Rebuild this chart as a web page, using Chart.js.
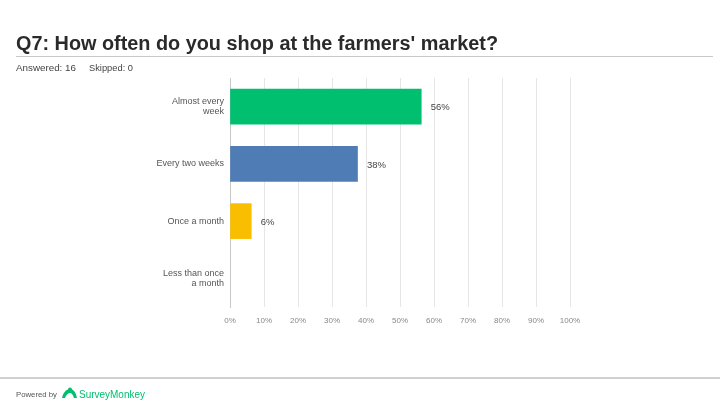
<!DOCTYPE html>
<html>
<head>
<meta charset="utf-8">
<script src="https://cdn.jsdelivr.net/npm/chart.js@4/dist/chart.umd.min.js"></script>
<style>
  html, body { margin:0; padding:0; background:#fff; }
  body { width:720px; height:405px; position:relative; overflow:hidden; font-family:"Liberation Sans", Arial, sans-serif; }
  #c { position:absolute; left:0; top:0; }
  .fit { position:absolute; white-space:nowrap; transform-origin:0 0; }
  #title { left:16px; top:31px; font-size:20px; font-weight:bold; color:#2a2a2a; line-height:24px; }
  #rule1 { position:absolute; left:16px; top:56px; width:697px; height:1px; background:#c8c8c8; }
  #ans { left:16px; top:63px; font-size:9px; color:#444; line-height:10px; }
  #skip { left:89px; top:63px; font-size:9px; color:#444; line-height:10px; }
  #rule2 { position:absolute; left:0; top:377px; width:720px; height:2px; background:#d0d0d0; }
  #pow { left:16px; top:390px; font-size:8px; color:#555; line-height:10px; }
  #sm { left:79px; top:389px; font-size:10px; color:#00BF6F; line-height:12px; }
  #logo { position:absolute; left:61px; top:387px; }
</style>
</head>
<body>
<canvas id="c" width="720" height="405"></canvas>
<div id="title" class="fit" data-w="482">Q7: How often do you shop at the farmers' market?</div>
<div id="rule1"></div>
<div id="ans" class="fit" data-w="60">Answered: 16</div>
<div id="skip" class="fit" data-w="44">Skipped: 0</div>
<div id="rule2"></div>
<div id="pow" class="fit" data-w="41">Powered by</div>
<svg id="logo" width="17" height="12" viewBox="0 0 17 12">
  <path d="M1 11 C2 6 5 2 9 2 C12 2 15 5 16 11 L13 11 C12 8 11 6 9 6 C7 6 5 8 4 11 Z" fill="#00BF6F"/>
  <circle cx="9" cy="2.5" r="2" fill="#00BF6F"/>
</svg>
<div id="sm" class="fit" data-w="66">SurveyMonkey</div>
<script>
const categories = [["Almost every", "week"], "Every two weeks", "Once a month", ["Less than once", "a month"]];
const values = [56.25, 37.5, 6.25, 0];
const valueLabels = ["56%", "38%", "6%", ""];
const barColors = ["#00BF6F", "#507CB6", "#F9BE00", "rgba(0,0,0,0)"];
const tickLabels = ["0%", "10%", "20%", "30%", "40%", "50%", "60%", "70%", "80%", "90%", "100%"];

document.querySelectorAll('.fit').forEach(el => {
  const w = el.getBoundingClientRect().width;
  const target = parseFloat(el.dataset.w);
  el.style.transform = 'scaleX(' + (target / w) + ')';
});

const valueLabelPlugin = {
  id: 'valueLabels',
  afterDatasetsDraw(chart) {
    const ctx = chart.ctx;
    const meta = chart.getDatasetMeta(0);
    ctx.save();
    ctx.font = '9.5px "Liberation Sans", Arial, sans-serif';
    ctx.fillStyle = '#444';
    ctx.textBaseline = 'middle';
    ctx.textAlign = 'left';
    meta.data.forEach((bar, i) => {
      if (!valueLabels[i]) return;
      ctx.fillText(valueLabels[i], bar.x + 9.5, bar.y + 1);
    });
    ctx.restore();
  }
};

new Chart(document.getElementById('c'), {
  type: 'bar',
  data: {
    labels: categories,
    datasets: [{
      data: values,
      backgroundColor: barColors,
      borderWidth: 0,
      barThickness: 35
    }]
  },
  options: {
    indexAxis: 'y',
    responsive: false,
    animation: false,
    devicePixelRatio: 1,
    layout: { padding: { left: 0, top: 78, right: 150, bottom: 70 } },
    plugins: { legend: { display: false }, tooltip: { enabled: false } },
    scales: {
      x: {
        min: 0, max: 100,
        afterFit(scale) { scale.height = 28; },
        afterBuildTicks(scale) {
          scale.ticks = tickLabels.map((t, i) => ({ value: i * 10 }));
        },
        ticks: {
          autoSkip: false,
          maxRotation: 0,
          padding: 9,
          color: '#888',
          font: { size: 8, family: '"Liberation Sans", Arial, sans-serif' },
          callback: (v, i) => tickLabels[i]
        },
        grid: { color: '#e6e6e6', lineWidth: 1, drawTicks: false },
        border: { display: false }
      },
      y: {
        afterFit(scale) { scale.width = 230; },
        ticks: {
          padding: 6,
          color: '#555',
          font: { size: 9, family: '"Liberation Sans", Arial, sans-serif', lineHeight: 1.1 }
        },
        grid: { display: false, drawTicks: false },
        border: { display: true, color: '#c8c8c8', width: 1 }
      }
    }
  },
  plugins: [valueLabelPlugin]
});
</script>
</body>
</html>
